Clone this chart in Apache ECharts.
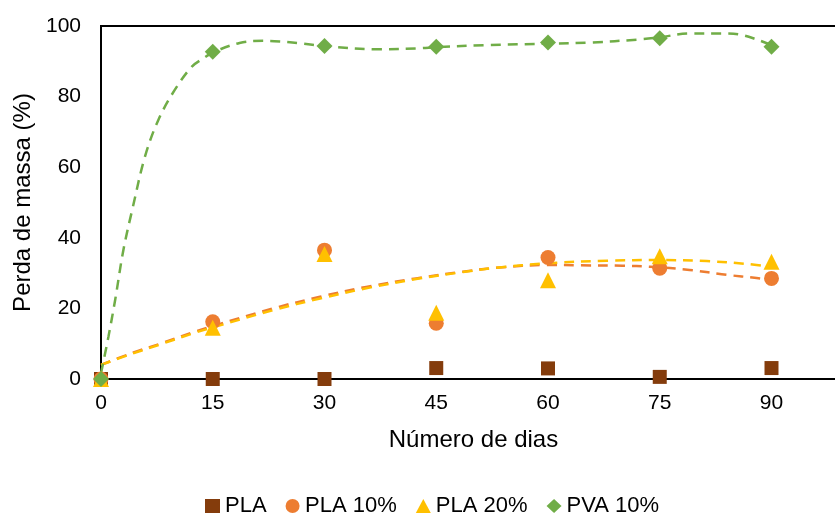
<!DOCTYPE html>
<html>
<head>
<meta charset="utf-8">
<script src="https://cdn.jsdelivr.net/npm/echarts@6/dist/echarts.min.js"></script>
<style>
  html, body { margin: 0; padding: 0; background: #fff; }
  #chart { width: 835px; height: 516px; }
</style>
</head>
<body>
<div id="chart"></div>
<script>
// Days of measurement
const days = [0, 15, 30, 45, 60, 75, 90];

// Mass loss (%) per sample
const pla    = [0, 0, 0, 3.1, 3.0, 0.6, 3.1];
const pla10  = [0, 16.2, 36.5, 15.8, 34.4, 31.4, 28.5];
const pla20  = [0, 14.5, 35.4, 18.8, 28.0, 34.8, 33.2];
const pva10  = [0, 92.7, 94.3, 94.1, 95.3, 96.5, 94.1];

// Polynomial trend curves, [day, %]
const pla10Trend = [[0,4.0],[4.1,7.3],[8.1,10.1],[12.6,13.4],[15,15.0],[23.1,20.0],[29.4,23.3],[35.6,26.1],[42.3,28.5],[48.6,30.4],[53,31.5],[60,32.3],[64.3,32.2],[70,32.1],[73.7,31.8],[79,30.9],[84,29.5],[88,28.6],[90,28.0]];
const pla20Trend = [[0,4.0],[4.1,7.1],[8.1,9.9],[12.6,13.1],[15,14.6],[23.1,19.5],[29.4,22.8],[35.6,25.7],[42.3,28.3],[48.6,30.3],[53,31.5],[60,32.8],[67.9,33.5],[75,33.7],[81.3,33.4],[86.7,32.6],[90,31.8]];
const pva10Trend = [[0,1.6],[1,12],[1.9,22.4],[3,36.5],[4.2,48],[5.9,63],[7.7,73.4],[9.9,81.9],[12.2,88.5],[13.7,90.8],[15,92.5],[18.6,95.2],[21.8,95.8],[24,95.6],[26.7,95.1],[30,94.3],[37.4,93.4],[42.8,93.7],[45,94.0],[51.8,94.6],[60,95.0],[65.6,95.3],[72.3,96.2],[75,96.8],[79,97.9],[83.5,97.9],[85.7,97.6],[88,96.2],[90,94.6]];

// Axis ticks
const xTicks = { min: 0, max: 100, interval: 15 };
const yTicks = { min: 0, max: 100, interval: 20 };

const names = ['PLA', 'PLA 10%', 'PLA 20%', 'PVA 10%'];
const colors = ['#843C0C', '#ED7D31', '#FFC000', '#70AD47'];
const FONT = 'Liberation Sans, Arial, sans-serif';

const pairs = (ys) => days.map((d, i) => [d, ys[i]]);

function trend(data, color) {
  return {
    type: 'line',
    data: data,
    smooth: 0.35,
    showSymbol: false,
    symbol: 'none',
    silent: true,
    z: 1,
    lineStyle: { color: color, width: 2.5, type: [10, 7] },
    legendHoverLink: false
  };
}

function points(name, ys, symbol, size, color) {
  return {
    name: name,
    type: 'scatter',
    data: pairs(ys),
    symbol: symbol,
    symbolSize: size,
    z: 3,
    itemStyle: { color: color, opacity: 1 }
  };
}

const chart = echarts.init(document.getElementById('chart'), null, { renderer: 'canvas' });
chart.setOption({
  animation: false,
  backgroundColor: '#fff',
  textStyle: { fontFamily: FONT },
  grid: {
    left: 101, top: 26, width: 745, height: 353,
    outerBoundsMode: 'none',
    containLabel: false,
    show: true, borderColor: '#000', borderWidth: 2, backgroundColor: 'transparent'
  },
  legend: {
    data: names.map((n, i) => ({ name: n, icon: ['rect', 'circle', 'triangle', 'diamond'][i] })),
    left: 200, top: 490,
    itemWidth: 15, itemHeight: 14, itemGap: 19,
    textStyle: { fontFamily: FONT, fontSize: 22, color: '#000' }
  },
  xAxis: {
    type: 'value',
    min: xTicks.min, max: xTicks.max, interval: xTicks.interval,
    name: 'Número de dias',
    nameLocation: 'middle',
    nameGap: 49,
    nameTextStyle: { fontFamily: FONT, fontSize: 24, color: '#000' },
    axisLine: { show: true, lineStyle: { color: '#000', width: 2 } },
    axisTick: { show: false },
    splitLine: { show: false },
    axisLabel: {
      fontFamily: FONT, fontSize: 21, color: '#000', margin: 14,
      showMaxLabel: false,
      formatter: (v) => (v > 90 ? '' : String(v))
    }
  },
  yAxis: {
    type: 'value',
    min: yTicks.min, max: yTicks.max, interval: yTicks.interval,
    name: 'Perda de massa (%)',
    nameLocation: 'middle',
    nameGap: 66,
    nameRotate: 90,
    nameTextStyle: { fontFamily: FONT, fontSize: 24, color: '#000' },
    axisLine: { show: true, lineStyle: { color: '#000', width: 2 } },
    axisTick: { show: false },
    splitLine: { show: false },
    axisLabel: { fontFamily: FONT, fontSize: 21, color: '#000', margin: 20 }
  },
  series: [
    trend(pla10Trend, colors[1]),
    trend(pla20Trend, colors[2]),
    trend(pva10Trend, colors[3]),
    points(names[0], pla,   'rect',     14, colors[0]),
    points(names[1], pla10, 'circle',   15, colors[1]),
    points(names[2], pla20, 'triangle', 16, colors[2]),
    points(names[3], pva10, 'diamond',  16, colors[3])
  ]
});
</script>
</body>
</html>
